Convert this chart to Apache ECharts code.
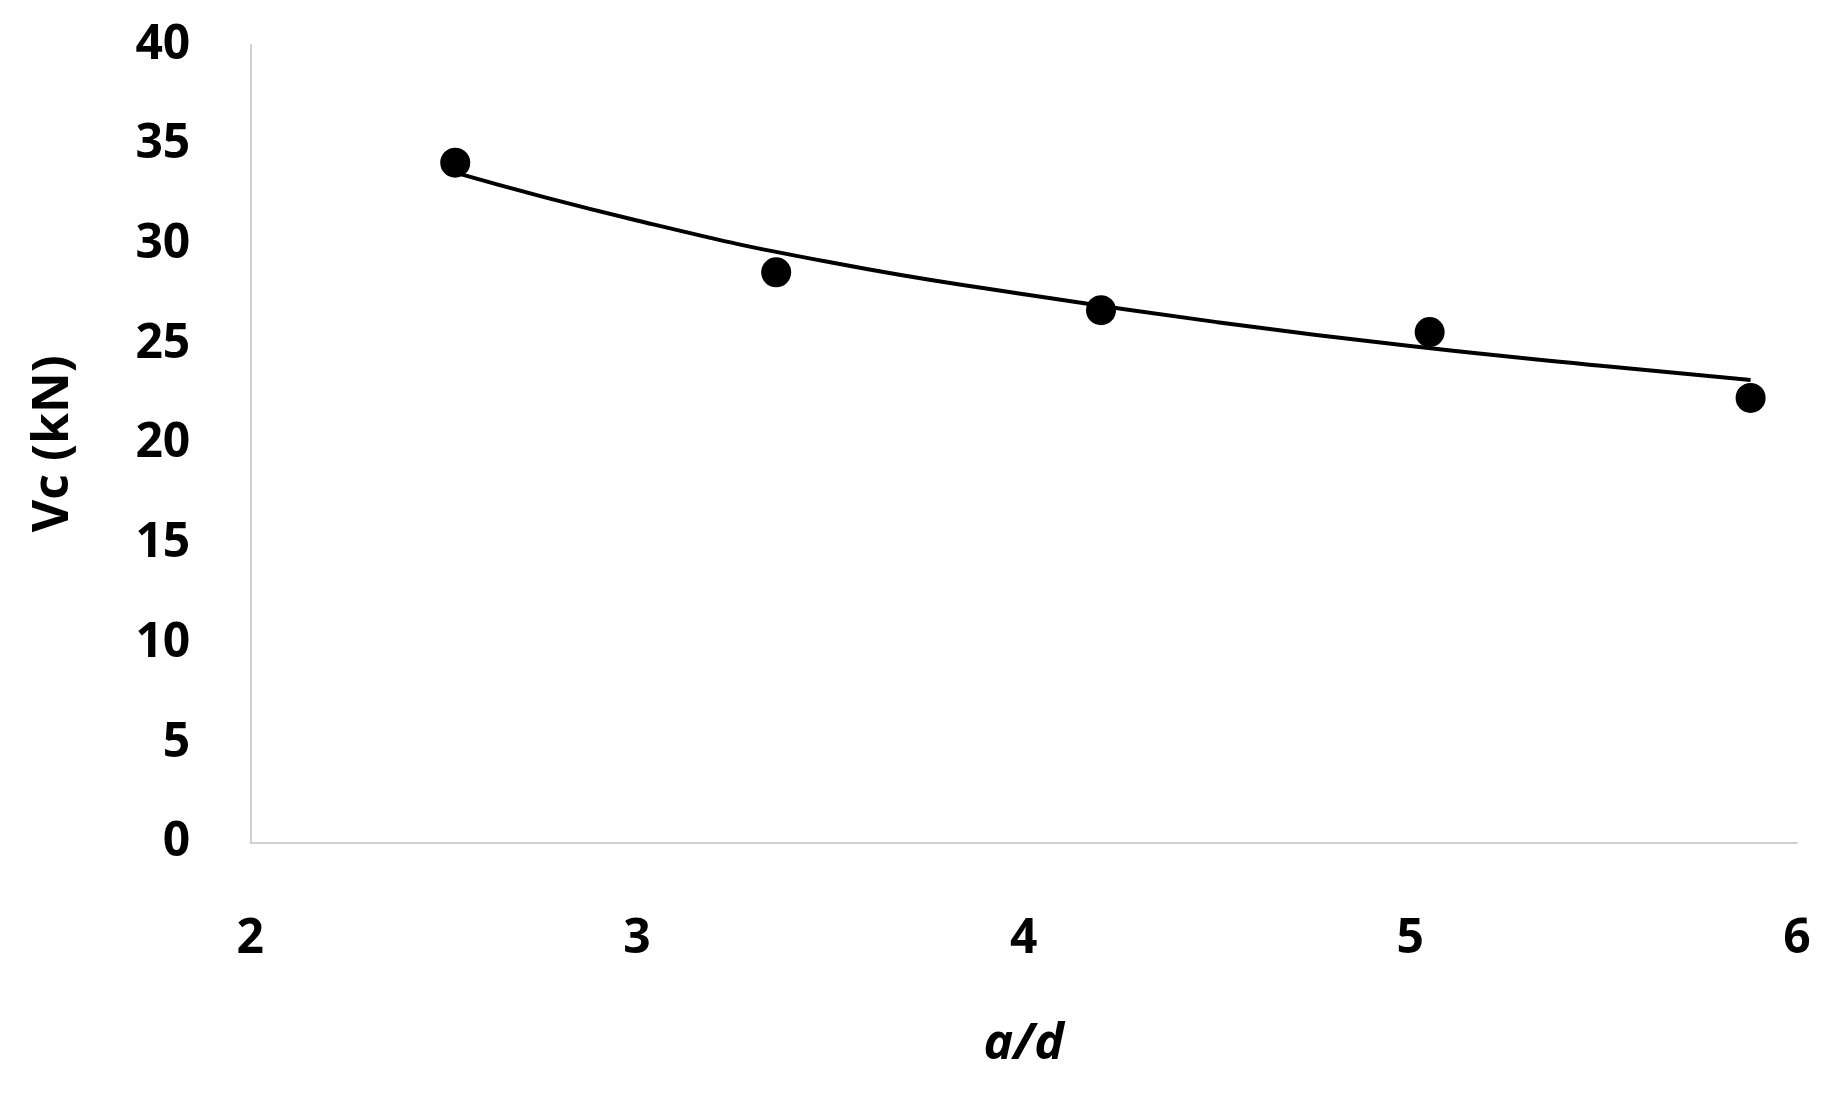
<!DOCTYPE html>
<html>
<head>
<script src="https://cdn.jsdelivr.net/npm/echarts@6/dist/echarts.min.js"></script>
<style>html,body{margin:0;background:#fff}</style>
</head>
<body>
<div id="main" style="width:1847px;height:1095px"></div>
<script>
// measured points
var ratioAD = [2.53, 3.36, 4.20, 5.05, 5.88];
var shearVc = [34.1, 28.6, 26.7, 25.6, 22.3];
// trendline
var trendX = [2.53, 3.0, 3.5, 4.0, 4.5, 5.0, 5.5, 5.88];
var trendY = [33.6, 31.2, 29.1, 27.5, 26.1, 24.9, 23.9, 23.2];

var font = 'Open Sans';
var chart = echarts.init(document.getElementById('main'));
chart.setOption({
    animation: false,
    grid: {left: 204, right: 50, top: 45, bottom: 221},
    xAxis: {
        type: 'value', min: 2, max: 6, interval: 1,
        name: 'a/d', nameLocation: 'middle', nameGap: 157,
        nameTextStyle: {fontFamily: font, fontWeight: 'bold', fontStyle: 'italic', fontSize: 50, color: '#000'},
        axisLine: {lineStyle: {color: '#d0d0d0', width: 2}},
        axisTick: {show: false}, splitLine: {show: false},
        axisLabel: {margin: 52, fontFamily: font, fontWeight: 'bold', fontSize: 48, color: '#000'}
    },
    yAxis: {
        type: 'value', min: 0, max: 40, interval: 5,
        name: 'Vc (kN)', nameLocation: 'middle', nameGap: 150, nameRotate: 90,
        nameTextStyle: {fontFamily: font, fontWeight: 'bold', fontSize: 50, color: '#000'},
        axisLine: {show: true, lineStyle: {color: '#d0d0d0', width: 2}},
        axisTick: {show: false}, splitLine: {show: false},
        axisLabel: {margin: 60, fontFamily: font, fontWeight: 'bold', fontSize: 48, color: '#000'}
    },
    series: [{
        type: 'line', smooth: true, symbol: 'none',
        lineStyle: {color: '#000', width: 4},
        data: trendX.map(function (x, i) { return [x, trendY[i]]; })
    }, {
        type: 'scatter', symbolSize: 30,
        itemStyle: {color: '#000', opacity: 1},
        data: ratioAD.map(function (x, i) { return [x, shearVc[i]]; })
    }]
});
</script>
</body>
</html>
